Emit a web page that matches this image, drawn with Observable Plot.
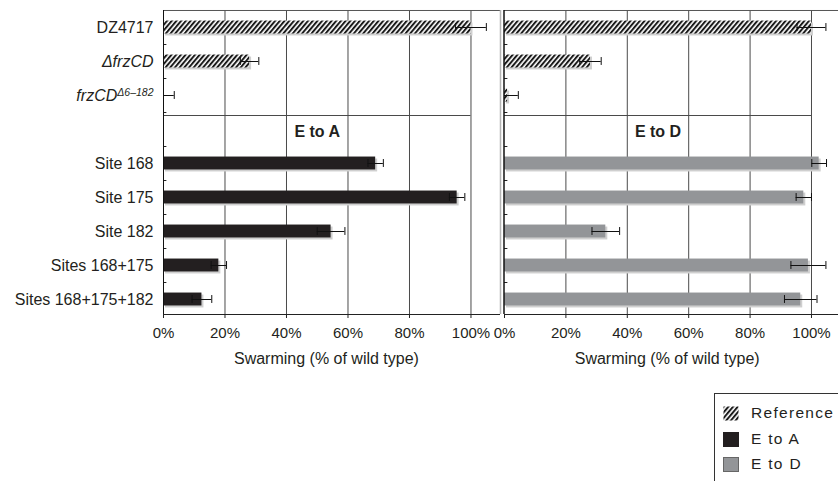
<!DOCTYPE html>
<html><head><meta charset="utf-8">
<script src="https://cdn.jsdelivr.net/npm/d3@7"></script>
<script src="https://cdn.jsdelivr.net/npm/@observablehq/plot@0.6"></script>
<style>
body{margin:0;background:#fff;}
#wrap{position:relative;width:838px;height:481px;overflow:hidden;font-family:"Liberation Sans",Arial,Helvetica,sans-serif;color:#231f20;}
#left,#right{position:absolute;top:0;}
#left{left:0;}
#right{left:501px;}
#legend{position:absolute;left:714px;top:393px;width:140px;height:100px;border-left:1px solid #333;border-top:1px solid #333;}
.item{position:absolute;left:8px;display:flex;align-items:center;font-size:15.5px;letter-spacing:1.3px;line-height:16px;}
.sw{width:16px;height:15px;margin-right:12px;display:block;}
</style></head><body>
<svg width="0" height="0" style="position:absolute"><defs>
<pattern id="hatch" patternUnits="userSpaceOnUse" width="3.6" height="3.6" patternTransform="rotate(40)">
<rect width="3.6" height="3.6" fill="#fff"/><rect width="2" height="3.6" fill="#1a1a1a"/></pattern></defs></svg>
<div id="wrap"><div id="left"></div><div id="right"></div><div id="legend"></div></div>
<script>
// ---- data ----
const categories = ["DZ4717","ΔfrzCD","frzCDΔ6–182"," ","Site 168","Site 175","Site 182","Sites 168+175","Sites 168+175+182"];
const referenceStrains = ["DZ4717","ΔfrzCD","frzCDΔ6–182"];
const sites = ["Site 168","Site 175","Site 182","Sites 168+175","Sites 168+175+182"];
const refLeft = [100, 28, 0];
const refLeftErr = [5, 3, 3.5];
const refRight = [100, 28, 1];
const refRightErr = [4.7, 3.5, 3.5];
const eToA = [69, 95.5, 54.5, 18, 12.5];
const eToAErr = [2.5, 2.5, 4.5, 2.5, 3.2];
const eToD = [102.5, 97.5, 33, 99, 96.5];
const eToDErr = [2.4, 2.5, 4.5, 5.7, 5.3];
const xTicks = [0, 20, 40, 60, 80, 100];
const panelLabels = ["E to A", "E to D"];
const axisLabel = "Swarming (% of wild type)";
const legendLabels = ["Reference", "E to A", "E to D"];
const colors = {ref: "url(#hatch)", A: "#231f20", D: "#939598"};

function makePanel({ref, refErr, val, err, fill, width, marginLeft, marginRight, xmax, showY, label}) {
  const refRows = referenceStrains.map((c, i) => ({cat: c, v: ref[i], e: refErr[i]}));
  const siteRows = sites.map((c, i) => ({cat: c, v: val[i], e: err[i]}));
  const rows = refRows.concat(siteRows);
  const last = categories[categories.length - 1];
  const marks = [
    Plot.ruleX(xTicks.filter(t => t > 0), {stroke: "#4a4a4a", strokeWidth: 1}),
    Plot.ruleY([categories[0]], {dy: -17, stroke: "#555"}),
    Plot.ruleY([" "], {x1: 0, x2: 100, dy: -14, stroke: "#4a4a4a"}),
    Plot.barX(rows, {x: "v", y: "cat", fill: "#cfcfcf", dx: 2, dy: 2}),
    Plot.barX(refRows, {x: "v", y: "cat", fill: colors.ref}),
    Plot.barX(siteRows, {x: "v", y: "cat", fill: fill}),
    Plot.ruleY(rows, {y: "cat", x1: d => Math.max(0, d.v - d.e), x2: d => d.v + d.e, stroke: "#111"}),
    Plot.tickX(rows, {x: d => d.v + d.e, y: "cat", insetTop: 2.5, insetBottom: 2.5, stroke: "#111"}),
    Plot.tickX(rows.filter(d => d.v - d.e > 0), {x: d => d.v - d.e, y: "cat", insetTop: 2.5, insetBottom: 2.5, stroke: "#111"}),
    Plot.ruleY([last], {dy: 15, stroke: "#222"}),
    Plot.ruleY(categories.slice(0, -1), {x1: 0, x2: 1.1, dy: 17, stroke: "#222"}),
    Plot.text([label], {x: 50, y: () => " ", text: d => d, dy: 2, fontSize: 16, fontWeight: "bold", fill: "#231f20", style: "word-spacing:3px"}),
    Plot.text([axisLabel], {x: 53, text: d => d, frameAnchor: "bottom", dy: 49, fontSize: 16, fill: "#231f20"}),
    Plot.axisX({ticks: xTicks, tickFormat: d => d + "%", tickSize: 4, tickPadding: 9, fontSize: 15, label: null, stroke: "#222"})
  ];
  if (showY) {
    marks.push(Plot.ruleX([0], {stroke: "#111"}));
    marks.push(Plot.ruleX([xmax], {stroke: "#b5b5b5", strokeWidth: 1.5}));
    marks.push(Plot.axisY({tickSize: 0, tickPadding: 10, fontSize: 16, label: null}));
  } else {
    marks.push(Plot.ruleX([0], {stroke: "#111", strokeWidth: 1.5, dx: -0.5}));
  }
  const svg = Plot.plot({
    width, height: 380,
    marginLeft, marginRight, marginTop: 10, marginBottom: 66,
    style: {fontFamily: "'Liberation Sans', Arial, Helvetica, sans-serif", color: "#231f20", background: "transparent", overflow: "visible", maxWidth: "none"},
    x: {domain: [0, xmax]},
    y: {type: "band", domain: categories, range: [10, 316], paddingInner: 0.62, paddingOuter: 0.31, round: false, axis: showY ? undefined : null},
    marks
  });
  if (showY) {
    const ns = "http://www.w3.org/2000/svg";
    svg.querySelectorAll('g[aria-label="y-axis tick label"] text').forEach(t => {
      const s = t.textContent;
      if (s === "ΔfrzCD") t.setAttribute("font-style", "italic");
      if (s === "frzCDΔ6–182") {
        t.textContent = "";
        t.setAttribute("font-style", "italic");
        const a = document.createElementNS(ns, "tspan");
        a.textContent = "frzCD";
        const b = document.createElementNS(ns, "tspan");
        b.textContent = "Δ6–182";
        b.setAttribute("font-size", "10.5");
        b.setAttribute("dy", "-5");
        t.append(a, b);
      }
    });
  }
  return svg;
}

document.getElementById("left").append(makePanel({
  ref: refLeft, refErr: refLeftErr, val: eToA, err: eToAErr, fill: colors.A,
  width: 501, marginLeft: 163, marginRight: 1, xmax: 109.6, showY: true, label: panelLabels[0]
}));
document.getElementById("right").append(makePanel({
  ref: refRight, refErr: refRightErr, val: eToD, err: eToDErr, fill: colors.D,
  width: 337, marginLeft: 3, marginRight: 0, xmax: 108.8, showY: false, label: panelLabels[1]
}));

// legend
const legend = document.getElementById("legend");
const swFill = [colors.ref, colors.A, colors.D];
const swStroke = ["none", "#231f20", "#666"];
const tops = [11, 37, 62];
legendLabels.forEach((lab, i) => {
  const item = document.createElement("div");
  item.className = "item";
  item.style.top = tops[i] + "px";
  item.innerHTML = `<svg class="sw" width="16" height="15"><rect x="0.5" y="0.5" width="15" height="14" fill="${swFill[i]}" stroke="${swStroke[i]}"/></svg><span>${lab}</span>`;
  legend.append(item);
});
</script>
</body></html>
